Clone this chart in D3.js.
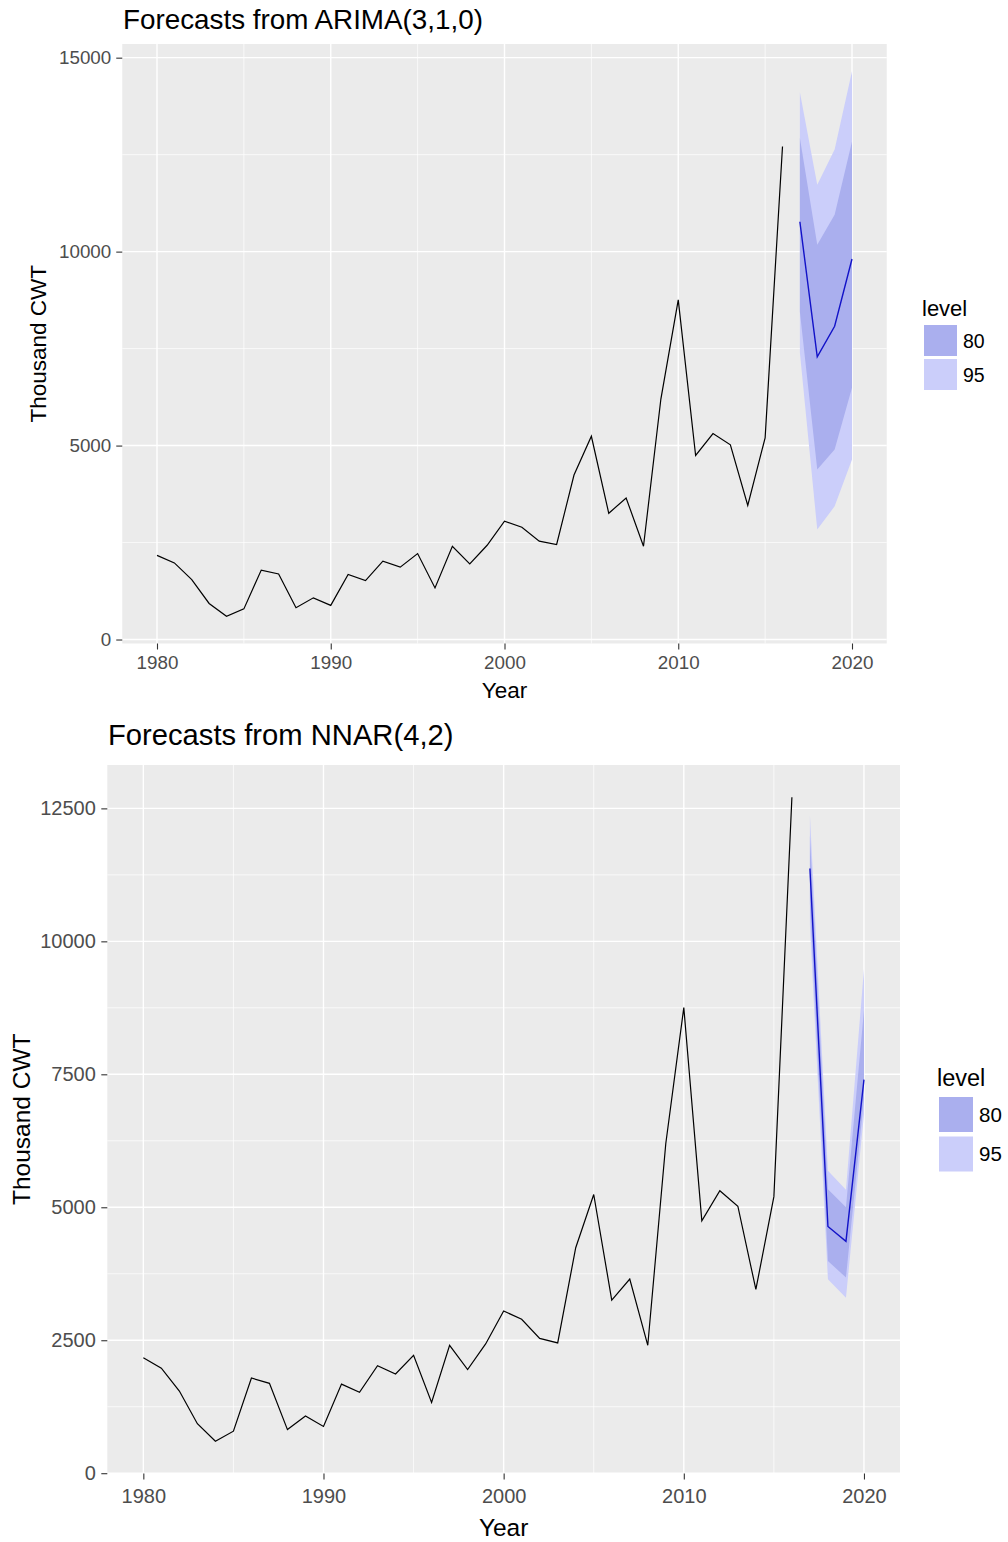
<!DOCTYPE html>
<html>
<head>
<meta charset="utf-8">
<script src="https://cdn.jsdelivr.net/npm/d3@7"></script>
<style>
  body { margin: 0; background: #fff; }
  svg text { font-family: "Liberation Sans", Arial, sans-serif; }
</style>
</head>
<body>
<svg id="chart" width="1008" height="1542"></svg>
<script>
var years = d3.range(1980, 2017);
var actual = [2170, 1975, 1545, 930, 600, 790, 1790, 1690, 820, 1075,
              880, 1675, 1520, 2020, 1865, 2215, 1330, 2405, 1950, 2430,
              3050, 2895, 2535, 2450, 4240, 5240, 3255, 3650, 2405, 6200,
              8755, 4745, 5310, 5020, 3455, 5200, 12710];

// Forecast horizon
var fcYears = [2017, 2018, 2019, 2020];

// ARIMA(3,1,0) point forecast and intervals
var arimaMean = [10770, 7290, 8075, 9810];
var arimaLo80 = [8450, 4380, 4900, 6490];
var arimaHi80 = [12930, 10180, 10950, 12840];
var arimaLo95 = [7400, 2835, 3435, 4640];
var arimaHi95 = [14110, 11725, 12630, 14650];

// NNAR(4,2) point forecast and intervals
var nnarMean = [11370, 4640, 4360, 7400];
var nnarLo80 = [10700, 3990, 3680, 7050];
var nnarHi80 = [11990, 5340, 5000, 8700];
var nnarLo95 = [10300, 3645, 3300, 6750];
var nnarHi95 = [12370, 5685, 5330, 9480];

var levels = ['80', '95'];

var levelFill = { '80': '#aaafee', '95': '#cbcefa' };

// ggplot-like 5% expansion on both sides
var expand = function (ext) {
  let pad = (ext[1] - ext[0]) * 0.05;
  return [ext[0] - pad, ext[1] + pad];
};

var drawPanel = function (svg, cfg) {
  let g = svg.append('g');

  let x = d3.scaleLinear()
            .domain(expand([years[0], fcYears[fcYears.length - 1]]))
            .range([cfg.left, cfg.right]);

  let allVals = actual.concat(cfg.mean, cfg.lo80, cfg.hi80, cfg.lo95, cfg.hi95);
  let y = d3.scaleLinear()
            .domain(expand(d3.extent(allVals)))
            .range([cfg.bottom, cfg.top]);

  // panel background
  g.append('rect')
    .attr('x', cfg.left).attr('y', cfg.top)
    .attr('width', cfg.right - cfg.left).attr('height', cfg.bottom - cfg.top)
    .attr('fill', '#ebebeb');

  let [x0, x1] = x.domain();
  let [y0, y1] = y.domain();
  let xMajor = d3.range(1980, x1, 10);
  let xMinor = xMajor.map(v => v + 5).filter(v => v < x1);
  let yMajor = d3.range(0, y1, cfg.yStep);
  let yMinor = yMajor.map(v => v + cfg.yStep / 2).filter(v => v < y1);

  // grid, minor below major
  g.selectAll('.ymin').data(yMinor).enter().append('line')
    .attr('x1', cfg.left).attr('x2', cfg.right)
    .attr('y1', d => y(d)).attr('y2', d => y(d))
    .attr('stroke', '#fff').attr('stroke-width', 0.7);
  g.selectAll('.xmin').data(xMinor).enter().append('line')
    .attr('y1', cfg.top).attr('y2', cfg.bottom)
    .attr('x1', d => x(d)).attr('x2', d => x(d))
    .attr('stroke', '#fff').attr('stroke-width', 0.7);
  g.selectAll('.ymaj').data(yMajor).enter().append('line')
    .attr('x1', cfg.left).attr('x2', cfg.right)
    .attr('y1', d => y(d)).attr('y2', d => y(d))
    .attr('stroke', '#fff').attr('stroke-width', 1.4);
  g.selectAll('.xmaj').data(xMajor).enter().append('line')
    .attr('y1', cfg.top).attr('y2', cfg.bottom)
    .attr('x1', d => x(d)).attr('x2', d => x(d))
    .attr('stroke', '#fff').attr('stroke-width', 1.4);

  // prediction intervals, wide one first
  let fc = fcYears.map((yr, i) => ({
    year: yr, mean: cfg.mean[i],
    lo80: cfg.lo80[i], hi80: cfg.hi80[i],
    lo95: cfg.lo95[i], hi95: cfg.hi95[i]
  }));
  ['95', '80'].forEach(lv => {
    let area = d3.area()
                 .x(d => x(d.year))
                 .y0(d => y(d['lo' + lv]))
                 .y1(d => y(d['hi' + lv]));
    g.append('path').datum(fc).attr('d', area).attr('fill', levelFill[lv]);
  });

  // observed series
  let line = d3.line().x(d => x(d[0])).y(d => y(d[1]));
  g.append('path')
    .datum(d3.zip(years, actual))
    .attr('d', line)
    .attr('fill', 'none').attr('stroke', '#000').attr('stroke-width', 1.2);

  // point forecast
  g.append('path')
    .datum(fc.map(d => [d.year, d.mean]))
    .attr('d', line)
    .attr('fill', 'none').attr('stroke', '#1212c8').attr('stroke-width', 1.4);

  // axes
  let styleAxis = function (a) {
    a.select('.domain').remove();
    a.selectAll('line').attr('stroke', '#333').attr('stroke-width', 1.1);
    a.selectAll('text').attr('fill', '#4d4d4d').style('font-size', cfg.tickFont + 'px');
  };
  g.append('g')
    .attr('transform', `translate(${cfg.left},0)`)
    .call(d3.axisLeft(y).tickValues(yMajor).tickFormat(d3.format('d'))
            .tickSize(6).tickPadding(cfg.yPad))
    .call(styleAxis);
  g.append('g')
    .attr('transform', `translate(0,${cfg.bottom})`)
    .call(d3.axisBottom(x).tickValues(xMajor).tickFormat(d3.format('d'))
            .tickSize(6).tickPadding(cfg.xPad))
    .call(styleAxis);

  // titles
  g.append('text')
    .attr('x', cfg.titleX).attr('y', cfg.titleY)
    .style('font-size', cfg.titleFont + 'px').attr('fill', '#000')
    .text(cfg.title);
  g.append('text')
    .attr('x', (cfg.left + cfg.right) / 2).attr('y', cfg.xTitleY)
    .attr('text-anchor', 'middle')
    .style('font-size', cfg.axisFont + 'px').attr('fill', '#000')
    .text('Year');
  g.append('text')
    .attr('transform', `translate(${cfg.yTitleX},${(cfg.top + cfg.bottom) / 2}) rotate(-90)`)
    .attr('text-anchor', 'middle')
    .style('font-size', cfg.axisFont + 'px').attr('fill', '#000')
    .text('Thousand CWT');

  // legend
  let leg = g.append('g');
  leg.append('text')
    .attr('x', cfg.legX).attr('y', cfg.legTitleY)
    .style('font-size', cfg.legTitleFont + 'px').attr('fill', '#000')
    .text('level');
  levels.forEach((lv, i) => {
    let ky = cfg.legKeyY + i * cfg.legKeyStep;
    leg.append('rect')
      .attr('x', cfg.legX + 2).attr('y', ky)
      .attr('width', cfg.keyW).attr('height', cfg.keyH)
      .attr('fill', levelFill[lv]);
    leg.append('text')
      .attr('x', cfg.legX + 2 + cfg.keyW + 6).attr('y', ky + cfg.keyH / 2)
      .attr('dy', '0.36em')
      .style('font-size', cfg.legFont + 'px').attr('fill', '#000')
      .text(lv);
  });
};

var svg = d3.select('#chart');

drawPanel(svg, {
  title: 'Forecasts from ARIMA(3,1,0)',
  mean: arimaMean, lo80: arimaLo80, hi80: arimaHi80, lo95: arimaLo95, hi95: arimaHi95,
  left: 122.25, right: 886.75, top: 44, bottom: 643.5,
  yStep: 5000,
  titleX: 123, titleY: 28.5, titleFont: 27.8,
  tickFont: 18.8, yPad: 5, xPad: 6.5,
  axisFont: 22.5, xTitleY: 698, yTitleX: 46,
  legX: 922, legTitleY: 316, legTitleFont: 22,
  legKeyY: 325, legKeyStep: 34, keyW: 33, keyH: 31, legFont: 19.5
});

drawPanel(svg, {
  title: 'Forecasts from NNAR(4,2)',
  mean: nnarMean, lo80: nnarLo80, hi80: nnarHi80, lo95: nnarLo95, hi95: nnarHi95,
  left: 107.3, right: 900, top: 765, bottom: 1473.5,
  yStep: 2500,
  titleX: 108, titleY: 745, titleFont: 29.2,
  tickFont: 20, yPad: 5.5, xPad: 9,
  axisFont: 24.5, xTitleY: 1536, yTitleX: 30,
  legX: 937, legTitleY: 1086, legTitleFont: 23.5,
  legKeyY: 1097, legKeyStep: 39.5, keyW: 34, keyH: 35, legFont: 20.5
});
</script>
</body>
</html>
